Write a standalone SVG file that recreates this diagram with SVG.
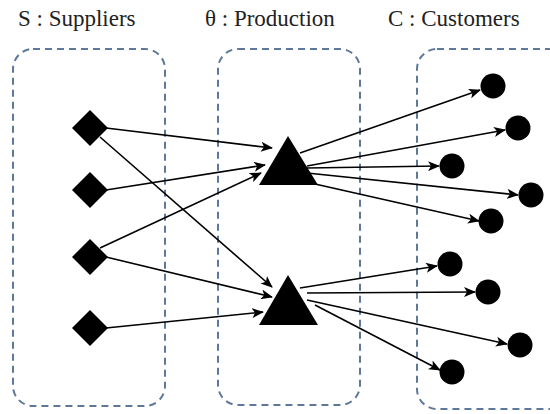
<svg xmlns="http://www.w3.org/2000/svg" width="550" height="414" viewBox="0 0 550 414">
<style>
.box{fill:none;stroke:#5d7899;stroke-width:2;stroke-dasharray:7,5}
.t{font-family:"Liberation Serif","DejaVu Serif",serif;font-size:23px;fill:#222}
.e{stroke:#000;stroke-width:1.6;fill:none;marker-end:url(#ah)}
</style>
<defs>
<marker id="ah" viewBox="0 0 12 10" refX="11" refY="5" markerWidth="12" markerHeight="10" markerUnits="userSpaceOnUse" orient="auto">
<path d="M0,0 L12,5 L0,10 L3,5 Z" fill="#000"/>
</marker>
</defs>
<rect width="550" height="414" fill="#fff"/>
<text class="t" x="18" y="26">S : Suppliers</text>
<text class="t" x="205" y="26">θ : Production</text>
<text class="t" x="388" y="26">C : Customers</text>
<g id="box-S"><rect class="box" x="13" y="49" width="152" height="357" rx="20"/></g>
<g id="box-P"><rect class="box" x="218" y="49" width="142" height="356" rx="20"/></g>
<g id="box-C"><rect class="box" x="417" y="49" width="160" height="360" rx="20"/></g>
<g id="connectors">
<line class="e" x1="106" y1="128" x2="272" y2="148"/>
<line class="e" x1="100" y1="137" x2="272" y2="287"/>
<line class="e" x1="106" y1="190" x2="265" y2="165"/>
<line class="e" x1="100" y1="248" x2="261" y2="173"/>
<line class="e" x1="106" y1="257" x2="272" y2="297"/>
<line class="e" x1="106" y1="328" x2="263" y2="312"/>
<line class="e" x1="300" y1="153" x2="480" y2="90"/>
<line class="e" x1="307" y1="166" x2="505" y2="130"/>
<line class="e" x1="307" y1="168" x2="439" y2="166"/>
<line class="e" x1="307" y1="173" x2="518" y2="195"/>
<line class="e" x1="315" y1="184" x2="479" y2="221"/>
<line class="e" x1="300" y1="288" x2="437" y2="266"/>
<line class="e" x1="307" y1="293" x2="475" y2="292"/>
<line class="e" x1="307" y1="300" x2="507" y2="344"/>
<line class="e" x1="315" y1="305" x2="440" y2="370"/>
</g>
<g id="s1"><polygon points="90,110 108,128 90,146 72,128"/></g>
<g id="s2"><polygon points="90,172 108,190 90,208 72,190"/></g>
<g id="s3"><polygon points="90,239 108,257 90,275 72,257"/></g>
<g id="s4"><polygon points="90,310 108,328 90,346 72,328"/></g>
<g id="p1"><polygon points="288,136 318,185 259,185"/></g>
<g id="p2"><polygon points="288,275 318,325 259,325"/></g>
<g id="c1"><circle cx="493" cy="86" r="12.5"/></g>
<g id="c2"><circle cx="518" cy="128" r="12.5"/></g>
<g id="c3"><circle cx="452" cy="166" r="12.5"/></g>
<g id="c4"><circle cx="531" cy="195" r="12.5"/></g>
<g id="c5"><circle cx="491" cy="221" r="12.5"/></g>
<g id="c6"><circle cx="450" cy="264" r="12.5"/></g>
<g id="c7"><circle cx="488" cy="292" r="12.5"/></g>
<g id="c8"><circle cx="520" cy="345" r="12.5"/></g>
<g id="c9"><circle cx="452" cy="372" r="12.5"/></g>
</svg>
